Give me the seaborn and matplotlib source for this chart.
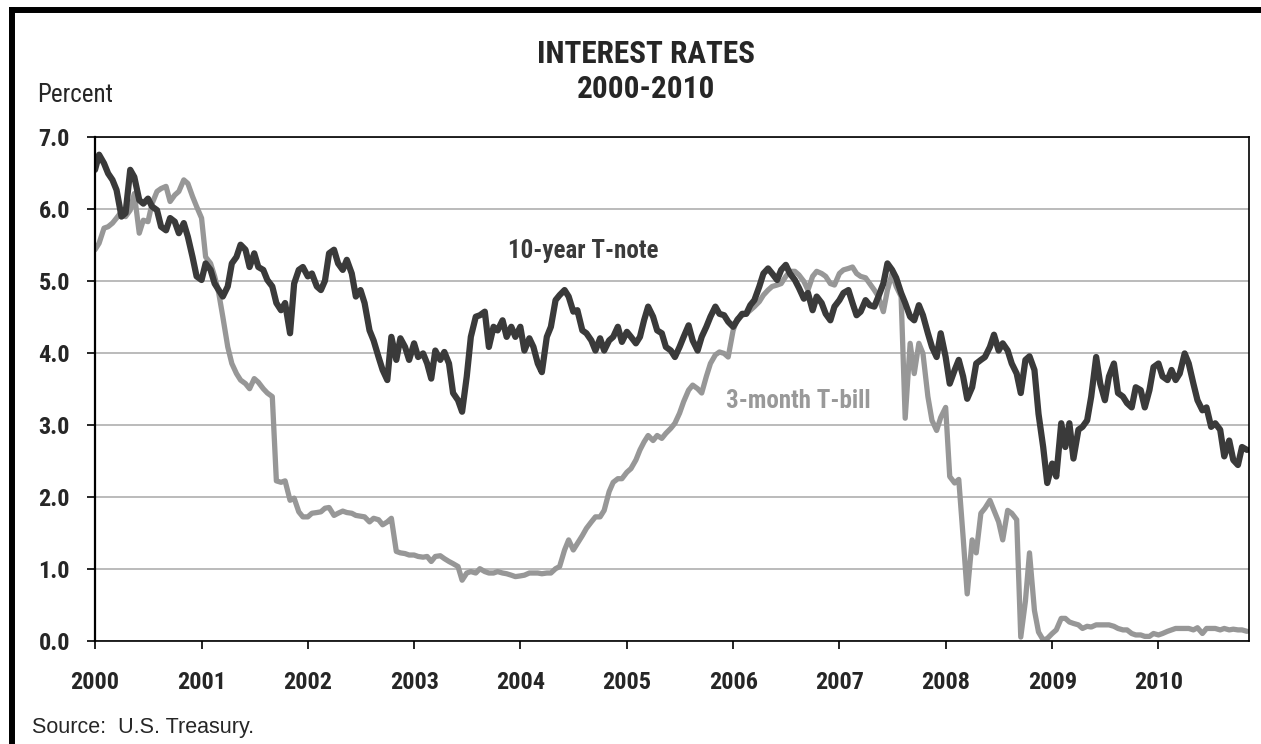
import pandas as pd
import matplotlib
matplotlib.use("Agg")
import matplotlib.pyplot as plt
import matplotlib.dates as mdates
from matplotlib.lines import Line2D
import seaborn as sns

# ----------------------------------------------------------
# Data : readings on the 1st and 15th of each month,
# Jan 2000 - Nov 2010 (percent)
# ----------------------------------------------------------

start_date = "2000-01-01"
end_date = "2010-11-08"

tnote_10yr = [
    6.54, 6.75, 6.63, 6.49, 6.40, 6.26, 5.89, 5.94, 6.54, 6.44,
    6.12, 6.07, 6.14, 6.03, 5.98, 5.75, 5.70, 5.87, 5.82, 5.66,
    5.80, 5.61, 5.33, 5.06, 5.01, 5.24, 5.15, 4.96, 4.87, 4.78,
    4.92, 5.24, 5.33, 5.50, 5.43, 5.19, 5.38, 5.19, 5.15, 5.01,
    4.92, 4.69, 4.59, 4.69, 4.27, 4.96, 5.15, 5.19, 5.06, 5.10,
    4.92, 4.87, 5.00, 5.38, 5.43, 5.24, 5.15, 5.29, 5.10, 4.78,
    4.87, 4.69, 4.31, 4.17, 3.94, 3.76, 3.62, 4.22, 3.90, 4.20,
    4.08, 3.90, 4.13, 3.94, 3.99, 3.85, 3.64, 4.03, 3.90, 4.01,
    3.85, 3.44, 3.34, 3.18, 3.67, 4.22, 4.50, 4.52, 4.57, 4.08,
    4.36, 4.31, 4.45, 4.22, 4.36, 4.22, 4.36, 4.03, 4.20, 4.08,
    3.85, 3.73, 4.22, 4.36, 4.73, 4.80, 4.87, 4.78, 4.57, 4.59,
    4.31, 4.27, 4.17, 4.03, 4.20, 4.03, 4.17, 4.22, 4.36, 4.15,
    4.29, 4.22, 4.13, 4.22, 4.45, 4.64, 4.50, 4.31, 4.27, 4.08,
    4.03, 3.94, 4.08, 4.22, 4.38, 4.17, 4.03, 4.22, 4.36, 4.50,
    4.64, 4.54, 4.52, 4.43, 4.36, 4.45, 4.54, 4.54, 4.66, 4.73,
    4.92, 5.10, 5.17, 5.10, 5.01, 5.15, 5.22, 5.10, 5.01, 4.90,
    4.75, 4.83, 4.59, 4.78, 4.69, 4.54, 4.45, 4.64, 4.73, 4.83,
    4.87, 4.69, 4.52, 4.57, 4.73, 4.66, 4.64, 4.78, 4.96, 5.24,
    5.15, 5.04, 4.83, 4.69, 4.50, 4.45, 4.66, 4.52, 4.27, 4.08,
    3.94, 4.27, 3.94, 3.57, 3.76, 3.90, 3.67, 3.36, 3.52, 3.85,
    3.90, 3.94, 4.08, 4.25, 4.03, 4.13, 4.03, 3.85, 3.71, 3.44,
    3.90, 3.95, 3.76, 3.15, 2.69, 2.19, 2.46, 2.28, 3.02, 2.69,
    3.02, 2.53, 2.93, 2.97, 3.06, 3.39, 3.94, 3.57, 3.34, 3.67,
    3.85, 3.44, 3.39, 3.30, 3.24, 3.52, 3.48, 3.24, 3.48, 3.80,
    3.85, 3.67, 3.62, 3.76, 3.62, 3.71, 3.99, 3.85, 3.57, 3.34,
    3.20, 3.24, 2.97, 3.02, 2.93, 2.56, 2.78, 2.51, 2.44, 2.69,
    2.65,
]

tbill_3mo = [
    5.43, 5.52, 5.73, 5.75, 5.80, 5.87, 5.96, 5.89, 5.98, 6.21,
    5.66, 5.84, 5.82, 6.07, 6.24, 6.28, 6.31, 6.10, 6.19, 6.24,
    6.40, 6.35, 6.17, 6.03, 5.87, 5.33, 5.24, 5.06, 4.83, 4.50,
    4.08, 3.85, 3.71, 3.62, 3.57, 3.50, 3.64, 3.59, 3.50, 3.44,
    3.39, 2.22, 2.20, 2.22, 1.95, 1.98, 1.79, 1.72, 1.72, 1.77,
    1.78, 1.79, 1.84, 1.85, 1.74, 1.77, 1.80, 1.78, 1.77, 1.74,
    1.73, 1.72, 1.65, 1.70, 1.68, 1.61, 1.65, 1.70, 1.24, 1.22,
    1.21, 1.19, 1.19, 1.17, 1.16, 1.17, 1.10, 1.17, 1.18, 1.14,
    1.10, 1.07, 1.03, 0.84, 0.94, 0.96, 0.94, 1.00, 0.96, 0.94,
    0.94, 0.96, 0.94, 0.93, 0.91, 0.89, 0.90, 0.91, 0.94, 0.94,
    0.94, 0.93, 0.94, 0.94, 1.00, 1.03, 1.26, 1.40, 1.26, 1.35,
    1.46, 1.56, 1.65, 1.72, 1.72, 1.81, 2.07, 2.20, 2.25, 2.25,
    2.34, 2.39, 2.51, 2.65, 2.76, 2.85, 2.78, 2.85, 2.81, 2.88,
    2.95, 3.02, 3.16, 3.32, 3.48, 3.55, 3.50, 3.44, 3.67, 3.85,
    3.97, 4.01, 3.99, 3.94, 4.31, 4.47, 4.52, 4.54, 4.59, 4.64,
    4.71, 4.80, 4.87, 4.92, 4.94, 4.96, 5.06, 5.13, 5.13, 5.08,
    4.99, 4.87, 5.06, 5.13, 5.10, 5.06, 4.96, 4.94, 5.10, 5.15,
    5.17, 5.19, 5.10, 5.06, 5.04, 4.96, 4.87, 4.78, 4.57, 4.87,
    5.10, 4.92, 4.78, 3.09, 4.13, 3.71, 4.13, 3.99, 3.39, 3.06,
    2.92, 3.10, 3.24, 2.28, 2.19, 2.24, 1.44, 0.65, 1.40, 1.22,
    1.77, 1.84, 1.95, 1.81, 1.65, 1.40, 1.81, 1.77, 1.68, 0.05,
    0.55, 1.22, 0.42, 0.12, 0.01, 0.03, 0.10, 0.15, 0.31, 0.31,
    0.26, 0.24, 0.22, 0.17, 0.20, 0.19, 0.22, 0.22, 0.22, 0.22,
    0.20, 0.17, 0.15, 0.15, 0.10, 0.08, 0.08, 0.06, 0.06, 0.10,
    0.08, 0.10, 0.13, 0.15, 0.17, 0.17, 0.17, 0.17, 0.15, 0.18,
    0.10, 0.17, 0.17, 0.17, 0.15, 0.17, 0.15, 0.16, 0.15, 0.15,
    0.13,
]

y_ticks = [0, 1, 2, 3, 4, 5, 6, 7]

dates = pd.date_range(start_date, periods=len(tnote_10yr), freq="SMS")
df = pd.DataFrame({"date": dates, "tnote": tnote_10yr, "tbill": tbill_3mo})

# ----------------------------------------------------------
# Plot
# ----------------------------------------------------------

sns.set_style("white")
NARROW = ["Roboto Condensed", "PT Sans Narrow", "Liberation Sans", "DejaVu Sans"]
plt.rcParams["font.family"] = NARROW

DARK = "#3a3a3a"
LIGHT = "#979797"

W, H = 1261, 744
fig = plt.figure(figsize=(W / 100, H / 100), dpi=100)
ax = fig.add_axes([95 / W, 1 - 640.7 / H, (1249 - 95) / W, (640.7 - 136.7) / H])

sns.lineplot(data=df, x="date", y="tbill", ax=ax, color=LIGHT, linewidth=3.8)
sns.lineplot(data=df, x="date", y="tnote", ax=ax, color=DARK, linewidth=4.5)

ax.set_xlim(pd.Timestamp(start_date), pd.Timestamp(end_date))
ax.set_ylim(0, 7)
ax.set_yticks(y_ticks)
ax.yaxis.set_major_formatter(plt.FuncFormatter(lambda v, p: f"{v:.1f}"))
ax.xaxis.set_major_locator(mdates.YearLocator())
ax.xaxis.set_major_formatter(mdates.DateFormatter("%Y"))
ax.set_xlabel("")
ax.set_ylabel("")

ax.yaxis.grid(True, color="#a8a8a8", linewidth=1.1)
ax.xaxis.grid(False)
ax.set_axisbelow(True)
for s in ax.spines.values():
    s.set_visible(True)
    s.set_color("black")
    s.set_linewidth(1.2)
ax.spines["left"].set_linewidth(1.6)

ax.tick_params(axis="both", direction="out", length=6, width=1.2, color="black",
               labelsize=17.5, bottom=True, left=True, top=False, right=False)
ax.tick_params(axis="y", pad=12)
ax.tick_params(axis="x", pad=16)
for lab in ax.get_xticklabels() + ax.get_yticklabels():
    lab.set_fontweight("bold")

# series labels
ax.text(pd.Timestamp("2004-08-03"), 5.32, "10-year T-note", ha="center", va="baseline",
        color=DARK, fontsize=18, fontweight="bold")
ax.text(pd.Timestamp("2006-08-14"), 3.23, "3-month T-bill", ha="center", va="baseline",
        color="#999999", fontsize=18, fontweight="bold")

# titles and notes
fig.text(646 / W, 1 - 63 / H, "INTEREST RATES", ha="center", va="baseline",
         fontsize=22.5, fontweight="bold")
fig.text(646 / W, 1 - 98 / H, "2000-2010", ha="center", va="baseline",
         fontsize=22.5, fontweight="bold")
fig.text(37 / W, 1 - 102 / H, "Percent", ha="left", va="baseline", fontsize=18)
fig.text(32 / W, 1 - 733 / H, "Source:  U.S. Treasury.", ha="left", va="baseline",
         fontsize=15.5, family=["Liberation Sans", "DejaVu Sans"])

# outer frame (left and top edges only)
bx, by = 11.5 / W, 1 - 9.7 / H
fig.add_artist(Line2D([bx, bx], [-0.05, by], transform=fig.transFigure,
                      color="black", linewidth=4.3, solid_capstyle="projecting"))
fig.add_artist(Line2D([bx, 1.05], [by, by], transform=fig.transFigure,
                      color="black", linewidth=4.3, solid_capstyle="projecting"))

fig.savefig("out.png", dpi=100)
